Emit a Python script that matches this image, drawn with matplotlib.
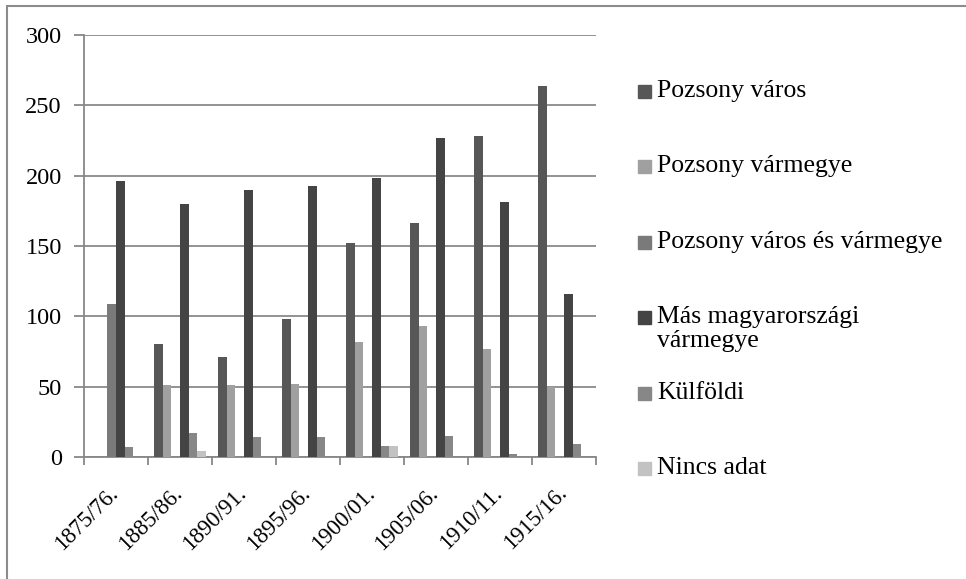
import numpy as np
import matplotlib
matplotlib.use("Agg")
import matplotlib.pyplot as plt
import matplotlib.transforms as mtransforms
from matplotlib.patches import Rectangle

plt.rcParams['font.family'] = ['Liberation Serif', 'DejaVu Serif']

# ---------------- data ----------------
years = ['1875/76.', '1885/86.', '1890/91.', '1895/96.',
         '1900/01.', '1905/06.', '1910/11.', '1915/16.']
series_names = ['Pozsony város', 'Pozsony vármegye', 'Pozsony város és vármegye',
                'Más magyarországi\nvármegye', 'Külföldi', 'Nincs adat']
pozsony_varos = [0, 80, 71, 98, 152, 166, 228, 264]
pozsony_varmegye = [0, 51, 51, 52, 82, 93, 77, 50]
pozsony_varos_es_varmegye = [109, 0, 0, 0, 0, 0, 0, 0]
mas_magyarorszagi = [196, 180, 190, 193, 198, 227, 181, 116]
kulfoldi = [7, 17, 14, 14, 8, 15, 2, 9]
nincs_adat = [0, 4, 0, 0, 8, 0, 0, 0]

all_series = [pozsony_varos, pozsony_varmegye, pozsony_varos_es_varmegye,
              mas_magyarorszagi, kulfoldi, nincs_adat]
colors = ['#575757', '#a0a0a0', '#7a7a7a', '#444444', '#878787', '#c2c2c2']

# ---------------- figure ----------------
fig = plt.figure(figsize=(9.66, 5.79), dpi=100)
ax = fig.add_axes([84 / 966, 122 / 579, 512 / 966, 422 / 579])

n = len(all_series)
w = 1 / (n + 1.5)
x = np.arange(len(years))
for i, (vals, c) in enumerate(zip(all_series, colors)):
    ax.bar(x + (i - (n - 1) / 2) * w, vals, width=w, color=c, zorder=3)

ax.set_xlim(-0.5, len(years) - 0.5)
ax.set_ylim(0, 300)
ax.set_yticks(range(0, 301, 50))
ax.tick_params(axis='y', length=7, width=1.3, color='#888888',
               labelsize=17.5, pad=9)
ax.yaxis.grid(True, color='#8a8a8a', linewidth=1.3, zorder=0)

ax.set_xticks(x)
ax.set_xticklabels(years, rotation=45, ha='right', va='top',
                   rotation_mode='anchor', fontsize=16.5)
ax.tick_params(axis='x', length=0, pad=14)
# nudge the rotated labels down-left like the original
offset = mtransforms.ScaledTranslation(-8 / 100, -6 / 100, fig.dpi_scale_trans)
for lab in ax.get_xticklabels():
    lab.set_transform(lab.get_transform() + offset)
ax.set_xticks(np.arange(-0.5, len(years)), minor=True)
ax.tick_params(axis='x', which='minor', length=6, width=1.3, color='#888888')

for s in ['top', 'right']:
    ax.spines[s].set_visible(False)
for s in ['left', 'bottom']:
    ax.spines[s].set_color('#888888')
    ax.spines[s].set_linewidth(1.3)

# legend drawn by hand to keep Excel-like even spacing
leg_y = [92, 167, 243, 318, 394, 469]
for name, c, yy in zip(series_names, colors, leg_y):
    fig.patches.append(Rectangle((638 / 966, 1 - (yy + 6) / 579), 13 / 966, 13 / 579,
                                 transform=fig.transFigure, color=c))
    fig.text(657 / 966, 1 - (yy - 12) / 579, name, fontsize=18.5,
             va='top', ha='left', linespacing=1.1)

# outer frame
fig.patches.append(Rectangle((6.5 / 966, -0.1), 1.2, 1 - 6.5 / 579 + 0.1,
                             transform=fig.transFigure, fill=False,
                             edgecolor='#8c8c8c', linewidth=1.5))

fig.savefig('out.png', dpi=100)
